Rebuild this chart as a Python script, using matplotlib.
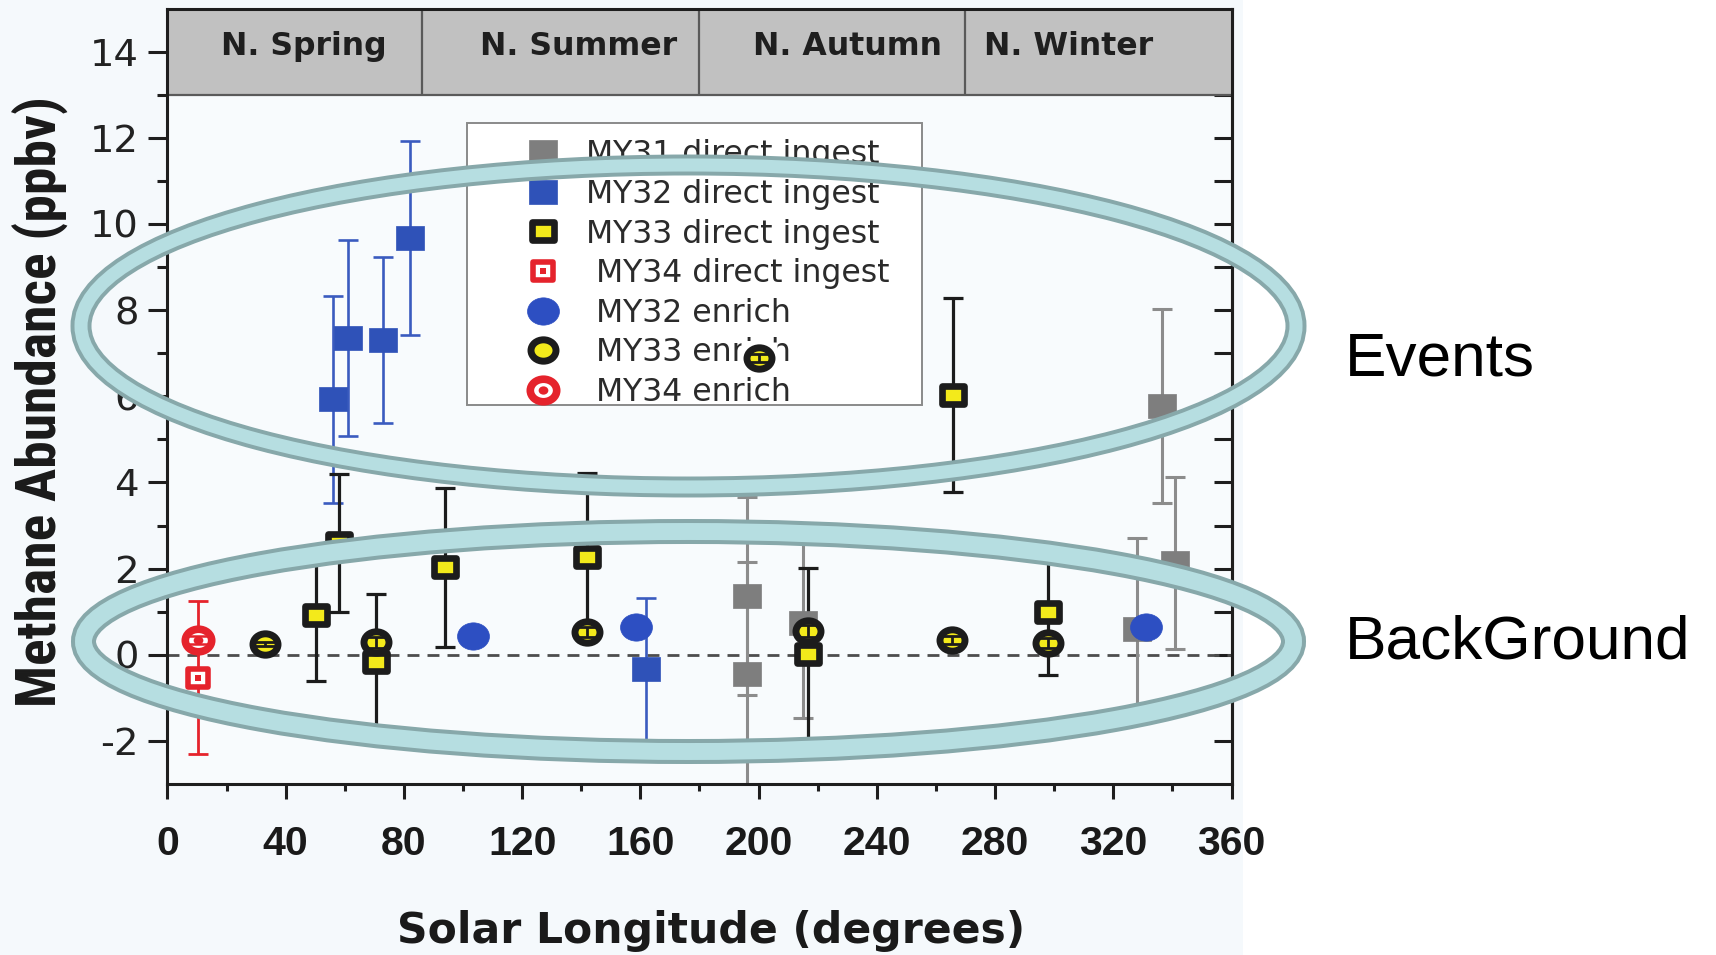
import numpy as np
import matplotlib
matplotlib.use("Agg")
import matplotlib.pyplot as plt
from matplotlib import font_manager as fm
from matplotlib.path import Path
from matplotlib.transforms import Affine2D
from matplotlib.patches import Ellipse, Rectangle
from matplotlib.lines import Line2D
from matplotlib.ticker import FixedLocator, NullLocator

plt.rcParams["axes.unicode_minus"] = False

# ---- data: solar longitude (deg), CH4 abundance (ppbv), 1-sigma error ----
my31_ls = [196.0, 196.0, 215.2, 328.0, 336.5, 341.0]
my31_ch4 = [1.36, -0.45, 0.74, 0.60, 5.77, 2.13]
my31_err = [2.30, 2.60, 2.20, 2.10, 2.25, 2.00]

my32_ls = [56.0, 61.0, 73.0, 82.0, 162.0]
my32_ch4 = [5.93, 7.35, 7.30, 9.68, -0.34]
my32_err = [2.40, 2.27, 1.93, 2.25, 1.65]

my33_ls = [50.3, 58.1, 70.7, 94.0, 142.0, 216.8, 265.8, 298.0]
my33_ch4 = [0.92, 2.60, -0.17, 2.03, 2.27, 0.02, 6.03, 0.99]
my33_err = [1.53, 1.60, 1.57, 1.84, 1.96, 2.00, 2.25, 1.45]

my34_ls = [10.5]
my34_ch4 = [-0.53]
my34_err = [1.77]

my32e_ls = [103.5, 158.7, 331.0]
my32e_ch4 = [0.44, 0.65, 0.64]
my32e_err = [0.08, 0.08, 0.08]

my33e_ls = [33.0, 70.6, 142.0, 200.0, 216.6, 265.5, 298.0]
my33e_ch4 = [0.25, 0.29, 0.53, 6.89, 0.55, 0.34, 0.27]
my33e_err = [0.05, 0.13, 0.12, 0.10, 0.13, 0.10, 0.12]

my34e_ls = [10.5]
my34e_ch4 = [0.34]
my34e_err = [0.10]

seasons = ["N. Spring", "N. Summer", "N. Autumn", "N. Winter"]
season_edges = [0, 86, 180, 270, 360]

x_ticks = list(range(0, 361, 40))
y_ticks = list(range(-2, 15, 2))

legend_labels = ["MY31 direct ingest", "MY32 direct ingest", "MY33 direct ingest",
                 " MY34 direct ingest", " MY32 enrich", " MY33 enrich", " MY34 enrich"]


def has_font(name):
    try:
        fm.findfont(fm.FontProperties(family=name, weight="bold"), fallback_to_default=False)
        return True
    except ValueError:
        return False


# ---- figure -------------------------------------------------------------
W, H = 1716, 955
fig = plt.figure(figsize=(W / 100, H / 100), dpi=100, facecolor="white")
fig.add_artist(Rectangle((0, 0), 1243 / W, 1, transform=fig.transFigure,
                         facecolor="#f5f9fc", edgecolor="none", zorder=-5))

ax = fig.add_axes([167.4 / W, 1 - 784 / H, 1064.1 / W, 775.5 / H])
ax.set_facecolor("#f8fbfd")
ax.set_xlim(0, 360)
ax.set_ylim(-3, 15)

# slightly wide marker shapes
def widen(path, sx=1.17):
    return Affine2D().scale(sx, 1.0).transform_path(path)

SQUARE = widen(Affine2D().translate(-0.5, -0.5).transform_path(Path.unit_rectangle()))
ROUND = widen(Path.unit_circle())

GRAY, BLUE, BLUE_DOT = "#7e7e7e", "#2f52b8", "#2d4fc2"
YELLOW, RED, BLACK = "#f3ea1b", "#e5232c", "#1c1c1c"

sq_gray = dict(marker=SQUARE, ms=20, mfc=GRAY, mec=GRAY, mew=0.5)
sq_blue = dict(marker=SQUARE, ms=20.5, mfc=BLUE, mec=BLUE, mew=0.5)
sq_yel = dict(marker=SQUARE, ms=15.8, mfc=YELLOW, mec=BLACK, mew=4.8)
sq_red = dict(marker=SQUARE, ms=14.4, mfc="white", mec=RED, mew=4.0)
dot_red_sq = dict(marker=SQUARE, ms=4.5, mfc=RED, mec=RED, mew=0)
ci_blue = dict(marker=ROUND, ms=23, mfc=BLUE_DOT, mec=BLUE_DOT, mew=0.5)
ci_yel = dict(marker=ROUND, ms=18, mfc=YELLOW, mec=BLACK, mew=5)
ci_red = dict(marker=ROUND, ms=19, mfc="white", mec=RED, mew=5.5)
dot_red_ci = dict(marker=ROUND, ms=7, mfc=RED, mec=RED, mew=0)


def bars(x, y, e, color, lw, z=2):
    ax.errorbar(x, y, yerr=e, fmt="none", ecolor=color, elinewidth=lw,
                capsize=7.5, capthick=lw, zorder=z)


def marks(x, y, style, z=3):
    ax.plot(x, y, linestyle="none", zorder=z, **style)


# season band
ax.axhspan(13, 15, facecolor="#c1c1c1", edgecolor="none", zorder=0.6)
ax.axhline(13, color="#5a5a5a", lw=1.6, zorder=0.7)
ax.vlines(season_edges[1:-1], 13, 15, color="#5a5a5a", lw=1.6, zorder=0.7)
season_label_x = [46, 139, 230, 305]
for name, xc in zip(seasons, season_label_x):
    ax.text(xc, 13.92, name, ha="center", va="baseline", fontsize=22.7,
            fontweight="bold", family="DejaVu Sans", color="#1f1f1f", zorder=0.8)

# zero reference
ax.axhline(0, color="#4d4d4d", lw=2.0, ls=(0, (4.3, 2.9)), zorder=1)

# direct-ingest error bars and markers
bars(my31_ls, my31_ch4, my31_err, "#8c8c8c", 2.2)
bars(my32_ls, my32_ch4, my32_err, "#3a5bbf", 1.9)
bars(my33_ls, my33_ch4, my33_err, BLACK, 2.3)
bars(my34_ls, my34_ch4, my34_err, RED, 2.0)
marks(my31_ls, my31_ch4, sq_gray)
marks(my32_ls, my32_ch4, sq_blue)
marks(my33_ls, my33_ch4, sq_yel)
marks(my34_ls, my34_ch4, sq_red)
marks(my34_ls, my34_ch4, dot_red_sq)

# enriched runs
marks(my32e_ls, my32e_ch4, ci_blue, z=3.2)
bars(my32e_ls, my32e_ch4, my32e_err, BLUE_DOT, 1.6, z=3.3)
marks(my34e_ls, my34e_ch4, ci_red, z=3.2)
marks(my34e_ls, my34e_ch4, dot_red_ci, z=3.25)
bars(my34e_ls, my34e_ch4, my34e_err, RED, 1.8, z=3.3)

e33_ls = np.array(my33e_ls)
e33_v = np.array(my33e_ch4)
over_legend = e33_v > 5.8
ax.plot(e33_ls[over_legend], e33_v[over_legend], linestyle="none", marker=SQUARE,
        ms=26.6, mfc="white", mec="none", zorder=5.9)
marks(my33e_ls, my33e_ch4, ci_yel, z=6)
bars(my33e_ls, my33e_ch4, my33e_err, BLACK, 2.0, z=6.1)

# legend
def handle(style):
    return Line2D([], [], linestyle="none", **style)

handles = [handle(sq_gray), handle(sq_blue), handle(sq_yel),
           (handle(sq_red), handle(dot_red_sq)), handle(ci_blue), handle(ci_yel),
           (handle(ci_red), handle(dot_red_ci))]
leg_fs = 22.7
em = leg_fs * 100 / 72
hl = 1.2
leg = ax.legend(handles, legend_labels, loc="upper left",
                bbox_to_anchor=((543 - hl * em / 2) / W, 1 - 139.5 / H),
                bbox_transform=fig.transFigure, frameon=False, borderpad=0,
                borderaxespad=0, handlelength=hl,
                handletextpad=(586 - 543 - hl * em / 2) / em, labelspacing=0.27,
                prop=dict(family="DejaVu Sans", size=leg_fs))
leg.set_zorder(5)
for t in leg.get_texts():
    t.set_color("#2b2b2b")
ax.add_artist(Rectangle((467 / W, 1 - 405 / H), (922 - 467) / W, (405 - 123) / H,
                        transform=fig.transFigure, facecolor="white",
                        edgecolor="#8a8a8a", lw=1.4, zorder=4.9, clip_on=False))

# axes, ticks, labels
for sp in ax.spines.values():
    sp.set_linewidth(2.2)
    sp.set_color("#1e1e1e")
ax.set_xticks(x_ticks)
ax.xaxis.set_minor_locator(FixedLocator(list(range(20, 360, 40))))
ax.set_yticks(y_ticks)
ax.yaxis.set_minor_locator(FixedLocator(list(range(-1, 14, 2))))
ax.tick_params(axis="both", which="both", direction="out", width=2.2,
               color="#1e1e1e", top=False, right=False)
ax.tick_params(axis="y", which="major", length=13.7, pad=6.8, labelsize=27.7,
               labelcolor="#222222")
ax.tick_params(axis="y", which="minor", length=7)
ax.tick_params(axis="x", which="major", length=11, pad=18.5, labelsize=29.5,
               labelcolor="#1a1a1a")
ax.tick_params(axis="x", which="minor", length=5)
for lab in ax.get_xticklabels():
    lab.set_fontfamily("Liberation Sans")
    lab.set_fontweight("bold")
for lab in ax.get_yticklabels():
    lab.set_fontfamily("DejaVu Sans")

sec = ax.secondary_yaxis("right")
sec.set_yticks(list(range(-2, 15)))
sec.yaxis.set_minor_locator(NullLocator())
sec.tick_params(axis="y", direction="in", length=13, width=2.2, color="#1e1e1e",
                labelright=False)
sec.spines["right"].set_linewidth(2.2)
sec.spines["right"].set_color("#1e1e1e")

ax.set_xlabel("Solar Longitude (degrees)", fontsize=30.6, fontweight="bold",
              family="DejaVu Sans", color="#1a1a1a")
ax.xaxis.set_label_coords(0.511, -0.163)

# condensed bold face for the vertical title, when one is installed
ylabel_fonts = [("Liberation Sans Narrow", 43), ("Roboto Condensed", 40),
                ("DejaVu Sans Condensed", 33.4)]
yfam, ysize = "DejaVu Sans", 28
for fam, size in ylabel_fonts:
    if has_font(fam):
        yfam, ysize = fam, size
        break
ax.set_ylabel("Methane Abundance (ppbv)", fontsize=ysize, fontweight="bold",
              family=yfam, color="#1a1a1a")
ax.yaxis.set_label_coords(-0.0925, 0.4926)

# highlighted regimes
def ring(cx, cy, a, b, lw_dark, lw_light):
    for lw, col in ((lw_dark, "#87a8aa"), (lw_light, "#b6dee1")):
        fig.add_artist(Ellipse((cx / W, 1 - cy / H), 2 * a / W, 2 * b / H,
                               transform=fig.transFigure, fill=False,
                               edgecolor=col, lw=lw, zorder=20))

ring(688.5, 326, 607.5, 161, 15.1, 9.4)
ring(688.5, 641.5, 605, 110, 18.0, 12.2)

fig.text(1345 / W, 1 - 375 / H, "Events", fontsize=44.7, family="Liberation Sans",
         color="black", ha="left", va="baseline")
fig.text(1345 / W, 1 - 658 / H, "BackGround", fontsize=44.7, family="Liberation Sans",
         color="black", ha="left", va="baseline")

fig.savefig("out.png", dpi=100)
